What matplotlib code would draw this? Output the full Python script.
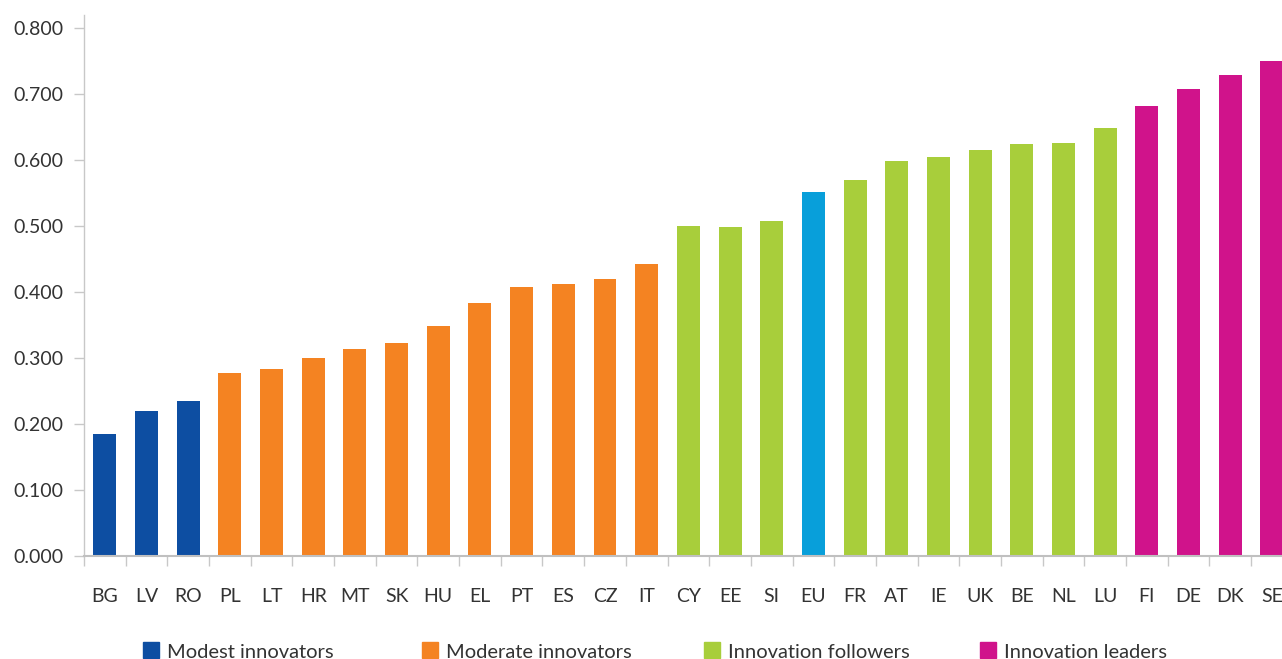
import matplotlib
matplotlib.use("Agg")
import matplotlib.pyplot as plt
from matplotlib.patches import Rectangle
from matplotlib.ticker import FixedLocator, FormatStrFormatter

countries = ['BG', 'LV', 'RO', 'PL', 'LT', 'HR', 'MT', 'SK', 'HU', 'EL', 'PT', 'ES',
             'CZ', 'IT', 'CY', 'EE', 'SI', 'EU', 'FR', 'AT', 'IE', 'UK', 'BE', 'NL',
             'LU', 'FI', 'DE', 'DK', 'SE']
values = [0.185, 0.220, 0.235, 0.277, 0.283, 0.300, 0.314, 0.323, 0.348, 0.383,
          0.408, 0.412, 0.420, 0.442, 0.500, 0.499, 0.508, 0.552, 0.570, 0.599,
          0.605, 0.615, 0.624, 0.626, 0.648, 0.682, 0.708, 0.729, 0.750]
groups = (['Modest'] * 3 + ['Moderate'] * 11 + ['Followers'] * 3 + ['EU'] +
          ['Followers'] * 7 + ['Leaders'] * 4)

group_colors = {'Modest': '#0D4EA2', 'Moderate': '#F48322', 'Followers': '#A8CE3B',
                'Leaders': '#D0138B', 'EU': '#089FDA'}
legend_labels = ['Modest innovators', 'Moderate innovators', 'Innovation followers',
                 'Innovation leaders']
legend_keys = ['Modest', 'Moderate', 'Followers', 'Leaders']
yticks = [0.0, 0.1, 0.2, 0.3, 0.4, 0.5, 0.6, 0.7, 0.8]

plt.rcParams['font.family'] = ['Lato', 'DejaVu Sans']

W, H = 1282, 659
fig = plt.figure(figsize=(W / 100, H / 100), dpi=100)
ax_left, ax_top, ax_bottom = 84, 15, 556
slot = 41.68
ax_width = slot * len(countries)
ax = fig.add_axes([ax_left / W, 1 - ax_bottom / H, ax_width / W, (ax_bottom - ax_top) / H])

x = list(range(len(countries)))
ax.bar(x, values, width=0.55, color=[group_colors[g] for g in groups], zorder=2)

ax.set_xlim(-0.5, len(countries) - 0.5)
ax.set_ylim(0, 0.82)

ax.set_yticks(yticks)
ax.yaxis.set_major_formatter(FormatStrFormatter('%.3f'))
ax.tick_params(axis='y', length=7.2, width=1, color='#c8c8c8', pad=7.5,
               labelsize=14, labelcolor='#333333')

ax.set_xticks(x)
ax.set_xticklabels(countries)
ax.tick_params(axis='x', which='major', length=0, pad=23, labelsize=14,
               labelcolor='#333333')
ax.xaxis.set_minor_locator(FixedLocator([i - 0.5 for i in range(len(countries) + 1)]))
ax.tick_params(axis='x', which='minor', length=7.2, width=1, color='#c8c8c8')

for s in ['top', 'right']:
    ax.spines[s].set_visible(False)
ax.spines['left'].set_color('#c8c8c8')
ax.spines['left'].set_linewidth(1)
ax.spines['bottom'].set_color('#c0c0c0')
ax.spines['bottom'].set_linewidth(1.5)

# legend (manual placement in figure pixel coordinates)
patch_x = [143, 422, 704, 980]
for px, key, lab in zip(patch_x, legend_keys, legend_labels):
    fig.patches.append(Rectangle(((px) / W, 1 / H), 16 / W, 16 / H,
                                 transform=fig.transFigure, color=group_colors[key]))
    fig.text((px + 24) / W, 1.0 / H, lab, fontsize=14.5, color='#333333',
             ha='left', va='baseline')

fig.savefig('out.png', dpi=100)
